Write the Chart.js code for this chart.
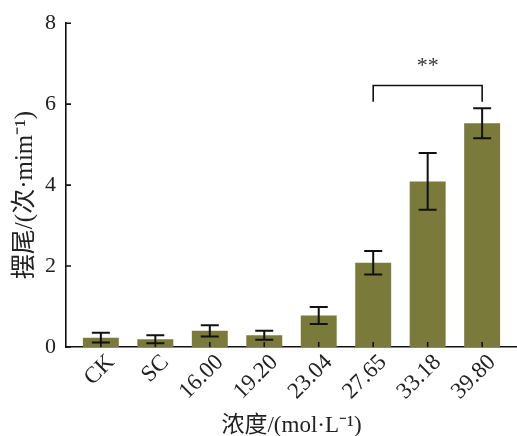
<!DOCTYPE html>
<html><head><meta charset="utf-8">
<script src="https://cdn.jsdelivr.net/npm/chart.js@4"></script>
<style>html,body{margin:0;padding:0;background:#fff}</style>
</head><body>
<canvas id="c" width="517" height="436"></canvas>
<script>
const categories = ['CK','SC','16.00','19.20','23.04','27.65','33.18','39.80'];
const means = [0.23,0.19,0.40,0.29,0.78,2.08,4.09,5.53];
const errors = [0.12,0.10,0.14,0.11,0.21,0.29,0.70,0.37];
const yTicks = [0,2,4,6,8];
const sigPair = [5,7];
const sigLevel = [6.06,6.46];
const sigLabel = '**';
const xTitle = '浓度/(mol·L⁻¹)';
const yTitle = '摆尾/(次·mim⁻¹)';

const FONT = "'Liberation Serif','Noto Sans CJK SC',serif";
const BAR = '#7a7b3b';

const overlay = {
  id: 'overlay',
  afterDatasetsDraw(chart) {
    const ctx = chart.ctx, x = chart.scales.x, y = chart.scales.y;
    const area = chart.chartArea;
    ctx.save();
    ctx.strokeStyle = '#111';
    ctx.lineWidth = 1.6;
    ctx.beginPath();
    yTicks.forEach(v => { const py = y.getPixelForValue(v); ctx.moveTo(area.left, py); ctx.lineTo(area.left + 5, py); });
    categories.forEach((c, i) => { const px = x.getPixelForValue(i); ctx.moveTo(px, area.bottom); ctx.lineTo(px, area.bottom - 5); });
    ctx.stroke();
    ctx.lineWidth = 2;
    means.forEach((m, i) => {
      const px = x.getPixelForValue(i);
      const t = y.getPixelForValue(m + errors[i]), b = y.getPixelForValue(m - errors[i]);
      ctx.beginPath();
      ctx.moveTo(px, t); ctx.lineTo(px, b);
      ctx.moveTo(px - 9, t); ctx.lineTo(px + 9, t);
      ctx.moveTo(px - 9, b); ctx.lineTo(px + 9, b);
      ctx.stroke();
    });
    const x1 = x.getPixelForValue(sigPair[0]), x2 = x.getPixelForValue(sigPair[1]);
    const yb = y.getPixelForValue(sigLevel[0]), yt = y.getPixelForValue(sigLevel[1]);
    ctx.lineWidth = 1.6;
    ctx.beginPath();
    ctx.moveTo(x1, yb); ctx.lineTo(x1, yt); ctx.lineTo(x2, yt); ctx.lineTo(x2, yb);
    ctx.stroke();
    ctx.fillStyle = '#333';
    ctx.font = "22px " + FONT;
    ctx.textAlign = 'center'; ctx.textBaseline = 'middle';
    ctx.fillText(sigLabel, (x1 + x2) / 2, yt - 19);
    ctx.fillStyle = '#222';
    ctx.font = "25px " + FONT;
    ctx.translate(25, 195);
    ctx.rotate(-Math.PI / 2);
    ctx.fillText(yTitle, 0, 0);
    ctx.restore();
  }
};

new Chart(document.getElementById('c'), {
  type: 'bar',
  data: {
    datasets: [{
      data: means.map((v, i) => ({x: i, y: v})),
      backgroundColor: BAR,
      borderWidth: 0,
      barPercentage: 0.66,
      categoryPercentage: 1
    }]
  },
  options: {
    responsive: false,
    devicePixelRatio: 1,
    animation: false,
    layout: {padding: {top: 19, right: 0, bottom: 0, left: 0}},
    plugins: {legend: {display: false}, tooltip: {enabled: false}},
    scales: {
      x: {
        type: 'linear',
        offset: false,
        min: -0.64, max: 7.64,
        afterBuildTicks: s => { s.ticks = categories.map((c, i) => ({value: i})); },
        afterFit: s => { s.height = 89; s.paddingLeft = 0; s.paddingRight = 0; },
        grid: {display: false, drawTicks: false},
        border: {display: true, color: '#111', width: 1.6},
        ticks: {
          callback: v => categories[v],
          minRotation: 45, maxRotation: 45,
          padding: 2,
          labelOffset: 10,
          color: '#222',
          font: {family: FONT, size: 23}
        },
        title: {display: true, text: xTitle, color: '#222', font: {family: FONT, size: 23}, padding: {top: 0, bottom: -4}}
      },
      y: {
        min: 0, max: 8,
        afterBuildTicks: s => { s.ticks = yTicks.map(v => ({value: v})); },
        afterFit: s => { s.width = 66; },
        grid: {display: false, drawTicks: false},
        border: {display: true, color: '#111', width: 1.6},
        ticks: {padding: 10, color: '#222', font: {family: FONT, size: 22}},
        title: {display: false}
      }
    }
  },
  plugins: [overlay]
});
</script>
</body></html>
